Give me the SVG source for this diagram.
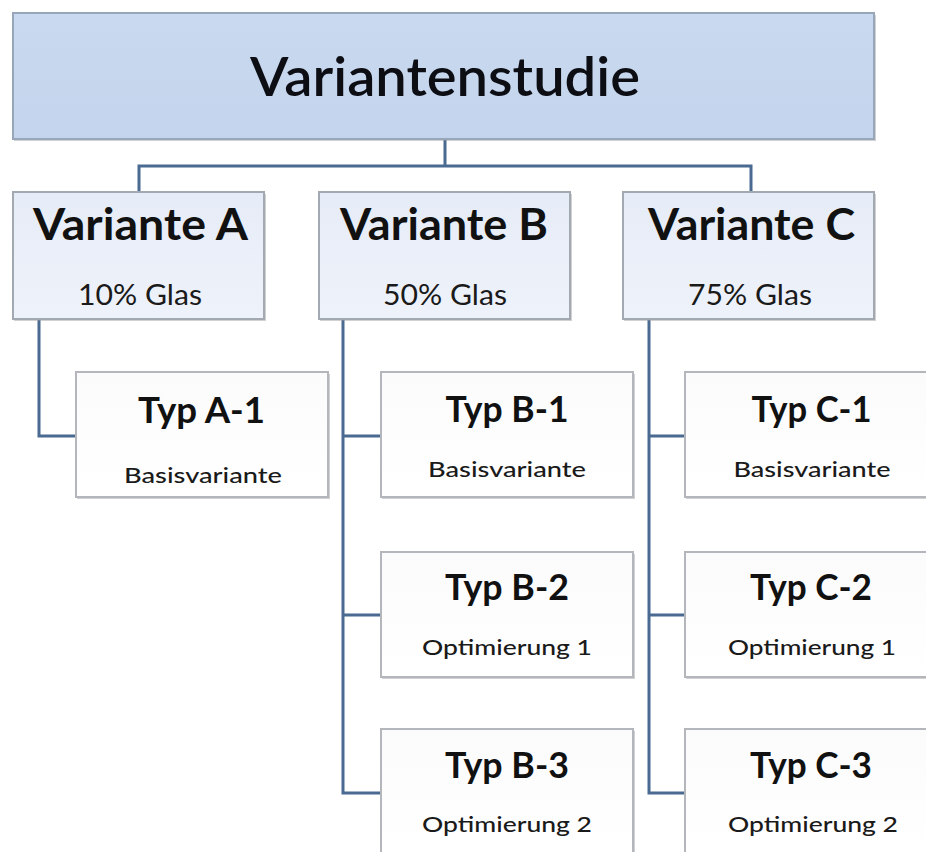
<svg xmlns="http://www.w3.org/2000/svg" width="926" height="852" viewBox="0 0 926 852">
<defs>
<linearGradient id="gTop" x1="0" y1="0" x2="0" y2="1">
<stop offset="0" stop-color="#c9d9ef"/><stop offset="1" stop-color="#c3d4ec"/>
</linearGradient>
<linearGradient id="gMid" x1="0" y1="0" x2="0" y2="1">
<stop offset="0" stop-color="#e6ecf7"/><stop offset="1" stop-color="#eef2fa"/>
</linearGradient>
<linearGradient id="gLow" x1="0" y1="0" x2="0" y2="1">
<stop offset="0" stop-color="#fbfbfc"/><stop offset="1" stop-color="#ffffff"/>
</linearGradient>
</defs>
<style>
.shadow{fill:#9a9a9a;opacity:0.45}
.top{fill:url(#gTop);stroke:#97a6b8;stroke-width:2}
.mid{fill:url(#gMid);stroke:#a3a9b1;stroke-width:2}
.low{fill:url(#gLow);stroke:#b3b6ba;stroke-width:2}
text{font-family:Lato,"Liberation Sans",sans-serif;fill:#111;text-anchor:middle}
.t0{font-size:53px;font-weight:600;fill:#0d0d14}
.t1{font-size:43px;font-weight:bold}
.t2{font-size:29px;fill:#1a1a1a}
.t3{font-size:36px;font-weight:bold}
.t4{font-size:22px;fill:#1a1a1a;font-weight:500}
.conn{fill:none;stroke:#4b6a92;stroke-width:3}
</style>
<rect width="926" height="852" fill="#ffffff"/>
<g id="connectors">
<path class="conn" d="M445,139 V166 M139,192 V166 H751 V192"/>
<path class="conn" d="M39,319 V436 H76"/>
<path class="conn" d="M343,319 V793 H381 M343,436 H381 M343,615 H381"/>
<path class="conn" d="M649,319 V793 H685 M649,436 H685 M649,615 H685"/>
</g>
<g id="root">
<rect class="shadow" x="14" y="15" width="862" height="126"/>
<rect class="top" x="13" y="13" width="861" height="126"/>
<text class="t0" x="445" y="96" textLength="390" lengthAdjust="spacingAndGlyphs">Variantenstudie</text>
</g>
<g id="varA">
<rect class="shadow" x="14" y="194" width="252" height="127"/>
<rect class="mid" x="13" y="192" width="251" height="127"/>
<text class="t1" x="140.5" y="240" textLength="215" lengthAdjust="spacingAndGlyphs">Variante A</text>
<text class="t2" x="140" y="305" textLength="124" lengthAdjust="spacingAndGlyphs">10% Glas</text>
</g>
<g id="varB">
<rect class="shadow" x="320" y="194" width="252" height="127"/>
<rect class="mid" x="319" y="192" width="251" height="127"/>
<text class="t1" x="444" y="240" textLength="208" lengthAdjust="spacingAndGlyphs">Variante B</text>
<text class="t2" x="445" y="305" textLength="124" lengthAdjust="spacingAndGlyphs">50% Glas</text>
</g>
<g id="varC">
<rect class="shadow" x="624" y="194" width="252" height="127"/>
<rect class="mid" x="623" y="192" width="251" height="127"/>
<text class="t1" x="751.5" y="240" textLength="207" lengthAdjust="spacingAndGlyphs">Variante C</text>
<text class="t2" x="750" y="305" textLength="124" lengthAdjust="spacingAndGlyphs">75% Glas</text>
</g>
<g id="typA1">
<rect class="shadow" x="77" y="374" width="253" height="125"/>
<rect class="low" x="76" y="372" width="252" height="125"/>
<text class="t3" x="201.5" y="423" textLength="127" lengthAdjust="spacingAndGlyphs">Typ A-1</text>
<text class="t4" x="203" y="483" textLength="158" lengthAdjust="spacingAndGlyphs">Basisvariante</text>
</g>
<g id="typB1">
<rect class="shadow" x="382" y="374" width="253" height="125"/>
<rect class="low" x="381" y="372" width="252" height="125"/>
<text class="t3" x="507" y="422" textLength="123" lengthAdjust="spacingAndGlyphs">Typ B-1</text>
<text class="t4" x="507" y="477" textLength="158" lengthAdjust="spacingAndGlyphs">Basisvariante</text>
</g>
<g id="typB2">
<rect class="shadow" x="382" y="554" width="253" height="125"/>
<rect class="low" x="381" y="552" width="252" height="125"/>
<text class="t3" x="507" y="600" textLength="124" lengthAdjust="spacingAndGlyphs">Typ B-2</text>
<text class="t4" x="507" y="655" textLength="170" lengthAdjust="spacingAndGlyphs">Optimierung 1</text>
</g>
<g id="typB3">
<rect class="shadow" x="382" y="731" width="253" height="125"/>
<rect class="low" x="381" y="729" width="252" height="125"/>
<text class="t3" x="507" y="778" textLength="124" lengthAdjust="spacingAndGlyphs">Typ B-3</text>
<text class="t4" x="507" y="832" textLength="170" lengthAdjust="spacingAndGlyphs">Optimierung 2</text>
</g>
<g id="typC1">
<rect class="shadow" x="686" y="374" width="253" height="125"/>
<rect class="low" x="685" y="372" width="252" height="125"/>
<text class="t3" x="811.5" y="422" textLength="120" lengthAdjust="spacingAndGlyphs">Typ C-1</text>
<text class="t4" x="812" y="477" textLength="157" lengthAdjust="spacingAndGlyphs">Basisvariante</text>
</g>
<g id="typC2">
<rect class="shadow" x="686" y="554" width="253" height="125"/>
<rect class="low" x="685" y="552" width="252" height="125"/>
<text class="t3" x="811" y="600" textLength="122" lengthAdjust="spacingAndGlyphs">Typ C-2</text>
<text class="t4" x="812" y="655" textLength="168" lengthAdjust="spacingAndGlyphs">Optimierung 1</text>
</g>
<g id="typC3">
<rect class="shadow" x="686" y="731" width="253" height="125"/>
<rect class="low" x="685" y="729" width="252" height="125"/>
<text class="t3" x="811" y="778" textLength="122" lengthAdjust="spacingAndGlyphs">Typ C-3</text>
<text class="t4" x="813" y="832" textLength="170" lengthAdjust="spacingAndGlyphs">Optimierung 2</text>
</g>
</svg>
